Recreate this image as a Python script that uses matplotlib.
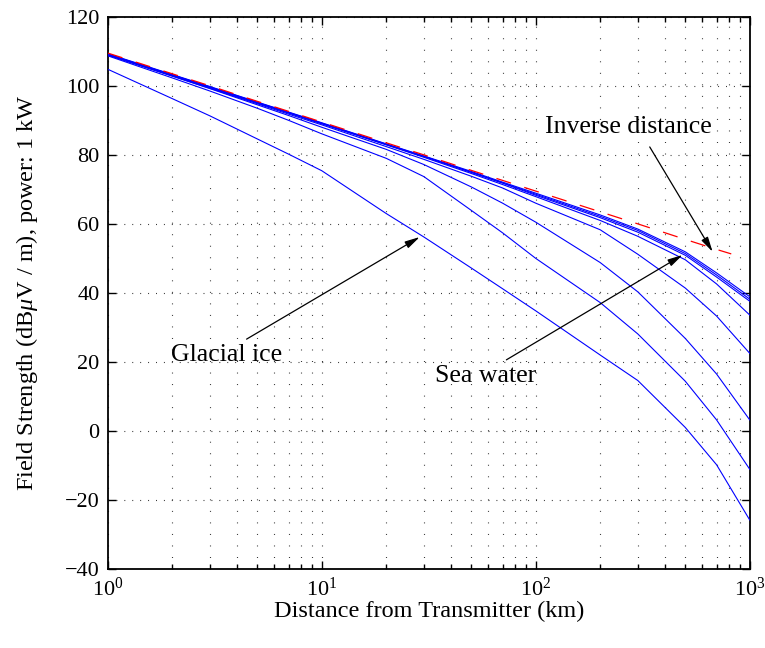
#!/usr/bin/env python3
"""Ground-wave field strength versus distance for 1 kW, one curve per
ground type, with the inverse-distance reference drawn dashed."""

import matplotlib

matplotlib.use("Agg")
import matplotlib.pyplot as plt
from matplotlib.ticker import FixedLocator, LogLocator, NullFormatter

# distances at which the curves were tabulated (km)
dist_km = [1, 2, 3, 5, 7, 10, 20, 30, 50, 70, 100, 200, 300, 500, 700, 1000]

# field strength, dB(uV/m), top curve to bottom curve
sea_water_1 = [109.3, 103.3, 99.8, 95.3, 92.4, 89.3, 83.2, 79.7, 75.2, 72.1, 68.9, 62.6, 58.5, 51.9, 45.8, 38.9]
sea_water_2 = [109.2, 103.2, 99.7, 95.2, 92.3, 89.2, 83.1, 79.6, 75.0, 71.9, 68.6, 62.2, 58.1, 51.4, 45.2, 38.2]
sea_water_3 = [109.1, 103.1, 99.6, 95.1, 92.2, 89.1, 83.0, 79.5, 74.9, 71.8, 68.3, 61.8, 57.6, 50.9, 44.6, 37.6]
fresh_water = [109.0, 103.0, 99.5, 95.0, 92.1, 89.0, 82.9, 79.3, 74.6, 71.4, 67.9, 61.0, 56.4, 49.6, 42.6, 33.6]
wet_ground = [108.9, 102.9, 99.3, 94.8, 91.8, 88.7, 82.4, 78.7, 73.8, 70.4, 66.0, 58.3, 51.2, 41.4, 33.3, 22.5]
land = [109.0, 102.8, 99.2, 94.5, 91.4, 88.0, 81.6, 77.2, 70.7, 66.0, 60.5, 48.8, 40.3, 26.8, 16.5, 3.2]
dry_ground = [108.7, 102.3, 98.5, 93.5, 90.0, 86.1, 79.0, 73.7, 63.9, 57.4, 50.0, 37.2, 28.1, 14.4, 3.2, -11.1]
glacial_ice = [104.8, 96.3, 91.3, 84.6, 80.2, 75.4, 63.0, 56.2, 47.2, 41.2, 34.8, 22.0, 14.6, 1.0, -9.8, -25.8]

ground_curves = [sea_water_1, sea_water_2, sea_water_3, fresh_water,
                 wet_ground, land, dry_ground, glacial_ice]

# inverse-distance field, 1 kW
inv_dist_km = [1, 2, 3, 5, 7, 10, 20, 30, 50, 70, 100, 200, 300, 500, 700, 820]
inv_field = [109.5, 103.5, 100.0, 95.5, 92.6, 89.5, 83.5, 80.0, 75.5, 72.6, 69.5, 63.5, 60.0, 55.5, 52.6, 51.3]

y_ticks = [-40, -20, 0, 20, 40, 60, 80, 100, 120]

plt.rcParams.update({
    "font.family": "serif",
    "font.serif": ["Liberation Serif", "DejaVu Serif"],
    "mathtext.fontset": "custom",
    "mathtext.rm": "Liberation Serif",
    "mathtext.it": "Liberation Serif:italic",
    "axes.unicode_minus": True,
    "lines.scale_dashes": False,
})

fig = plt.figure(figsize=(7.65, 6.48), dpi=100)
ax = fig.add_axes([0.141, 0.122, 0.839, 0.852])

for field in ground_curves:
    ax.plot(dist_km, field, color="#0000ff", lw=0.8, zorder=3)
ax.plot(inv_dist_km, inv_field, color="#ff0000", lw=0.9,
        linestyle=(0, (11, 10)), zorder=4)

ax.set_xscale("log")
ax.set_xlim(1, 1000)
ax.set_ylim(-40, 120)
ax.yaxis.set_major_locator(FixedLocator(y_ticks))
ax.xaxis.set_major_locator(LogLocator(base=10, numticks=10))
ax.xaxis.set_minor_locator(LogLocator(base=10, subs=range(2, 10), numticks=10))
ax.xaxis.set_minor_formatter(NullFormatter())

# dotted grid: every x tick, major y ticks only
ax.grid(True, which="major", axis="y", color="0.2", lw=0.8,
        linestyle=(0, (0.7, 5.0)))
ax.grid(True, which="both", axis="x", color="0.2", lw=0.8,
        linestyle=(0, (0.7, 7.6)))
ax.set_axisbelow(True)

ax.tick_params(which="both", direction="in", top=True, right=True,
               labelsize=16, width=1.0)
ax.tick_params(which="major", length=6)
ax.tick_params(which="minor", length=3.5)
ax.tick_params(axis="x", which="major", pad=6)
ax.tick_params(axis="y", which="major", pad=6)
for spine in ax.spines.values():
    spine.set_linewidth(1.3)

ax.set_xlabel("Distance from Transmitter (km)", fontsize=17.5, labelpad=0)
ax.set_ylabel(r"Field Strength (dB$\mu$V / m), power: 1 kW", fontsize=17.5,
              labelpad=18)

arrow = dict(arrowstyle="-|>,head_length=0.9,head_width=0.22",
             color="black", lw=0.9, shrinkA=0, shrinkB=0)
ax.text(110, 88.1, "Inverse distance", fontsize=18.5, ha="left", va="center")
ax.annotate("", xy=(671, 51.9), xytext=(341, 82.3), arrowprops=arrow)
ax.text(1.98, 22.0, "Glacial ice", fontsize=18.5, ha="left", va="center")
ax.annotate("", xy=(28.7, 56.2), xytext=(4.45, 26.6), arrowprops=arrow)
ax.text(33.8, 15.9, "Sea water", fontsize=18.5, ha="left", va="center")
ax.annotate("", xy=(486, 51.0), xytext=(72.9, 20.6), arrowprops=arrow)

fig.savefig("out.png", dpi=100)
